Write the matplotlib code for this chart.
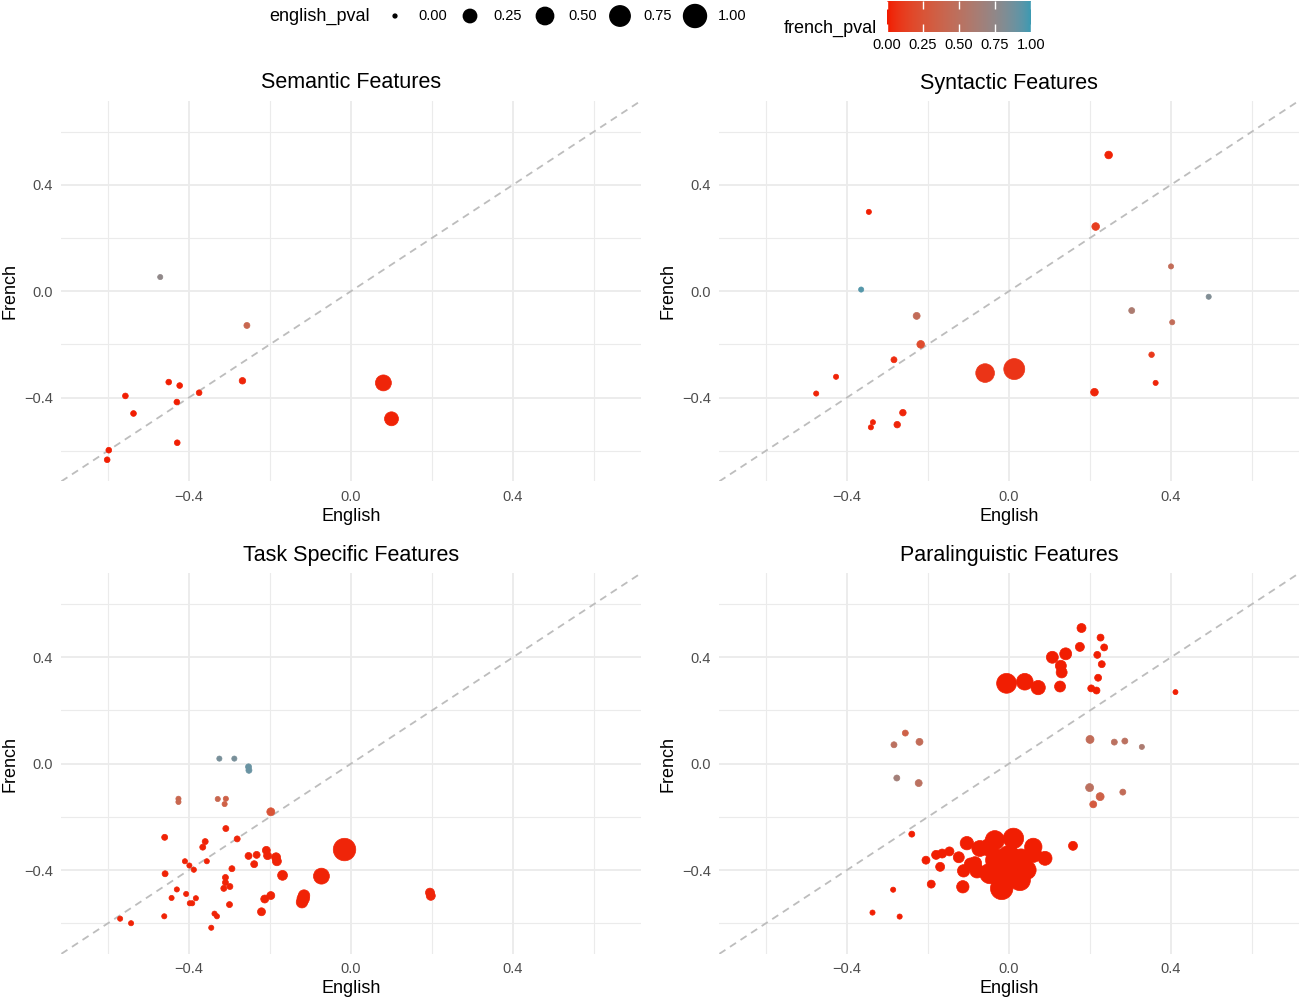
import numpy as np
import matplotlib
matplotlib.use('Agg')
import matplotlib.pyplot as plt
from matplotlib.colors import ListedColormap, to_rgb

plt.rcParams['font.family'] = ['Liberation Sans', 'DejaVu Sans']

# --- data (correlations and p-values per feature) ---
sem_english = [-0.471, -0.257, 0.080, 0.100, -0.268, -0.450, -0.423, -0.375, -0.557, -0.430,
               -0.537, -0.429, -0.598, -0.602]
sem_french = [0.053, -0.129, -0.345, -0.480, -0.337, -0.342, -0.355, -0.382, -0.394, -0.417,
              -0.460, -0.570, -0.598, -0.634]
sem_english_pval = [0.005, 0.013, 0.40, 0.28, 0.02, 0.01, 0.01, 0.01, 0.01, 0.01,
                    0.01, 0.01, 0.01, 0.01]
sem_french_pval = [0.75, 0.40, 0.03, 0.02, 0.03, 0.01, 0.01, 0.02, 0.01, 0.01,
                   0.01, 0.01, 0.01, 0.01]

syn_english = [0.246, -0.346, 0.214, 0.400, -0.365, 0.493, 0.303, -0.228, 0.403, -0.218,
               -0.284, 0.352, -0.059, 0.013, -0.427, -0.476, 0.211, 0.362, -0.262, -0.336,
               -0.341, -0.276]
syn_french = [0.512, 0.298, 0.243, 0.093, 0.006, -0.021, -0.073, -0.093, -0.117, -0.200,
              -0.258, -0.239, -0.308, -0.293, -0.322, -0.385, -0.380, -0.345, -0.457, -0.493,
              -0.512, -0.502]
syn_english_pval = [0.04, 0.005, 0.04, 0.005, 0.005, 0.005, 0.013, 0.027, 0.005, 0.04,
                    0.013, 0.008, 0.60, 0.80, 0.005, 0.005, 0.04, 0.005, 0.02, 0.005,
                    0.005, 0.02]
syn_french_pval = [0.02, 0.01, 0.12, 0.45, 0.95, 0.82, 0.60, 0.45, 0.45, 0.20,
                   0.05, 0.10, 0.08, 0.08, 0.02, 0.02, 0.03, 0.03, 0.03, 0.02,
                   0.02, 0.03]

task_english = [-0.325, -0.288, -0.253, -0.252, -0.426, -0.426, -0.329, -0.309, -0.312, -0.198,
                -0.309, -0.460, -0.281, -0.360, -0.366, -0.253, -0.233, -0.209, -0.206, -0.185,
                -0.183, -0.410, -0.399, -0.388, -0.356, -0.239, -0.294, -0.016, -0.459, -0.169,
                -0.073, -0.310, -0.310, -0.299, -0.314, -0.430, -0.407, -0.443, -0.383, -0.398,
                -0.392, -0.300, -0.198, -0.213, -0.116, -0.121, -0.118, -0.221, -0.337, -0.331,
                -0.461, -0.570, -0.543, -0.345, 0.195, 0.197]
task_french = [0.019, 0.019, -0.012, -0.025, -0.132, -0.144, -0.133, -0.132, -0.152, -0.181,
               -0.244, -0.277, -0.283, -0.293, -0.314, -0.347, -0.343, -0.326, -0.346, -0.352,
               -0.367, -0.367, -0.383, -0.399, -0.367, -0.378, -0.395, -0.323, -0.414, -0.420,
               -0.423, -0.428, -0.447, -0.462, -0.469, -0.473, -0.490, -0.505, -0.506, -0.525,
               -0.525, -0.530, -0.496, -0.509, -0.496, -0.521, -0.508, -0.557, -0.564, -0.574,
               -0.574, -0.583, -0.600, -0.617, -0.485, -0.497]
task_english_pval = [0.005, 0.005, 0.013, 0.013, 0.005, 0.005, 0.005, 0.005, 0.005, 0.047,
                     0.013, 0.013, 0.013, 0.013, 0.013, 0.027, 0.027, 0.047, 0.047, 0.073,
                     0.073, 0.005, 0.005, 0.005, 0.005, 0.027, 0.013, 0.95, 0.013, 0.10,
                     0.40, 0.013, 0.013, 0.013, 0.013, 0.005, 0.005, 0.005, 0.005, 0.005,
                     0.005, 0.013, 0.047, 0.047, 0.16, 0.16, 0.20, 0.047, 0.005, 0.005,
                     0.005, 0.005, 0.005, 0.005, 0.073, 0.073]
task_french_pval = [0.85, 0.85, 0.90, 0.90, 0.40, 0.40, 0.40, 0.35, 0.35, 0.25,
                    0.03, 0.02, 0.03, 0.02, 0.02, 0.02, 0.02, 0.02, 0.02, 0.02,
                    0.02, 0.02, 0.02, 0.02, 0.02, 0.02, 0.02, 0.03, 0.02, 0.02,
                    0.02, 0.02, 0.02, 0.02, 0.02, 0.02, 0.02, 0.02, 0.02, 0.02,
                    0.02, 0.02, 0.02, 0.02, 0.02, 0.02, 0.02, 0.02, 0.02, 0.02,
                    0.02, 0.02, 0.02, 0.02, 0.03, 0.03]

para_english = [0.179, 0.226, 0.235, 0.175, 0.218, 0.229, 0.107, 0.140, 0.128, 0.130,
                0.220, 0.126, 0.203, 0.216, -0.006, 0.039, 0.072, 0.411,
                -0.256, -0.284, -0.221, -0.277, -0.223, 0.200, 0.260, 0.286, 0.328, 0.199,
                0.225, 0.208, 0.281,
                -0.240, -0.104, -0.205, -0.180, -0.165, -0.147, -0.170, -0.192, -0.114, -0.286,
                -0.337, -0.270, 0.158,
                -0.124, -0.112, -0.084, -0.072, -0.079, -0.050, -0.035, 0.011, 0.060, 0.089,
                -0.030, 0.000, 0.030, -0.047, -0.018, 0.027, 0.044, -0.005, -0.095, 0.060]
para_french = [0.510, 0.474, 0.437, 0.439, 0.409, 0.374, 0.400, 0.413, 0.368, 0.343,
               0.323, 0.290, 0.283, 0.275, 0.302, 0.308, 0.286, 0.269,
               0.115, 0.071, 0.082, -0.054, -0.073, 0.091, 0.081, 0.085, 0.063, -0.090,
               -0.124, -0.153, -0.107,
               -0.265, -0.299, -0.363, -0.343, -0.338, -0.330, -0.388, -0.453, -0.463, -0.474,
               -0.560, -0.575, -0.309,
               -0.352, -0.403, -0.375, -0.319, -0.403, -0.315, -0.288, -0.281, -0.313, -0.356,
               -0.363, -0.350, -0.360, -0.413, -0.469, -0.438, -0.400, -0.410, -0.378, -0.340]
para_english_pval = [0.073, 0.027, 0.027, 0.073, 0.027, 0.027, 0.18, 0.18, 0.14, 0.14,
                     0.027, 0.14, 0.027, 0.027, 0.70, 0.45, 0.30, 0.004,
                     0.013, 0.013, 0.027, 0.013, 0.027, 0.047, 0.013, 0.013, 0.005, 0.047,
                     0.047, 0.027, 0.013,
                     0.013, 0.25, 0.047, 0.073, 0.073, 0.073, 0.073, 0.047, 0.20, 0.005,
                     0.005, 0.005, 0.073,
                     0.14, 0.20, 0.25, 0.40, 0.30, 0.50, 0.65, 0.75, 0.50, 0.28,
                     0.95, 0.95, 0.80, 0.75, 0.95, 0.80, 0.60, 0.95, 0.20, 0.45]
para_french_pval = [0.01] * 18 + [0.35, 0.50, 0.45, 0.65, 0.50, 0.45, 0.50, 0.50, 0.60, 0.50,
                                  0.35, 0.30, 0.45] + [0.01] * 33

panel_titles = ['Semantic Features', 'Syntactic Features',
                'Task Specific Features', 'Paralinguistic Features']
size_breaks = [0.00, 0.25, 0.50, 0.75, 1.00]
axis_breaks = [-0.4, 0.0, 0.4]

panels = [
    (sem_english, sem_french, sem_english_pval, sem_french_pval),
    (syn_english, syn_french, syn_english_pval, syn_french_pval),
    (task_english, task_french, task_english_pval, task_french_pval),
    (para_english, para_french, para_english_pval, para_french_pval),
]


# colour ramp interpolated in CIELAB, like ggplot's scale_colour_gradient
def _to_lab(rgb):
    c = np.array(rgb)
    c = np.where(c <= 0.04045, c / 12.92, ((c + 0.055) / 1.055) ** 2.4)
    m = np.array([[0.4124, 0.3576, 0.1805], [0.2126, 0.7152, 0.0722], [0.0193, 0.1192, 0.9505]])
    xyz = m @ c / np.array([0.95047, 1.0, 1.08883])
    f = np.where(xyz > 0.008856, np.cbrt(xyz), 7.787 * xyz + 16 / 116)
    return np.array([116 * f[1] - 16, 500 * (f[0] - f[1]), 200 * (f[1] - f[2])])


def _from_lab(lab):
    fy = (lab[0] + 16) / 116
    fx = fy + lab[1] / 500
    fz = fy - lab[2] / 200
    f = np.array([fx, fy, fz])
    xyz = np.where(f ** 3 > 0.008856, f ** 3, (f - 16 / 116) / 7.787) * np.array([0.95047, 1.0, 1.08883])
    mi = np.array([[3.2406, -1.5372, -0.4986], [-0.9689, 1.8758, 0.0415], [0.0557, -0.2040, 1.0570]])
    c = mi @ xyz
    c = np.where(c <= 0.0031308, 12.92 * c, 1.055 * np.clip(c, 0, None) ** (1 / 2.4) - 0.055)
    return np.clip(c, 0, 1)


lo, hi = _to_lab(to_rgb('#F21A00')), _to_lab(to_rgb('#3B9AB2'))
cmap = ListedColormap([_from_lab(lo + (hi - lo) * t) for t in np.linspace(0, 1, 256)])


def point_area(p):
    d = 3.83 * (1 + 5 * np.sqrt(np.asarray(p, dtype=float)))  # diameter in px
    return (d * 0.72) ** 2


W, H = 1300, 1000
fig = plt.figure(figsize=(13, 10), dpi=100)

lim = (-0.715, 0.715)
origins = [(61.4, 101), (719.4, 101), (61.4, 573.5), (719.4, 573.5)]
for (x0, y0), title, (eng, fr, ep, fp) in zip(origins, panel_titles, panels):
    ax = fig.add_axes([x0 / W, 1 - (y0 + 380.3) / H, 579.2 / W, 380.3 / H])
    ax.set_xlim(lim)
    ax.set_ylim(lim)
    for s in ax.spines.values():
        s.set_visible(False)
    ax.set_xticks(axis_breaks)
    ax.set_yticks(axis_breaks)
    ax.set_xticks([-0.6, -0.2, 0.2, 0.6], minor=True)
    ax.set_yticks([-0.6, -0.2, 0.2, 0.6], minor=True)
    ax.set_xticklabels(['\u22120.4', '0.0', '0.4'])
    ax.set_yticklabels(['\u22120.4', '0.0', '0.4'])
    ax.tick_params(which='both', length=0, labelsize=10.5, labelcolor='#4D4D4D')
    ax.tick_params(axis='x', pad=6)
    ax.tick_params(axis='y', pad=6)
    ax.grid(which='major', color='#EBEBEB', lw=1.3)
    ax.grid(which='minor', color='#EBEBEB', lw=0.8)
    ax.set_axisbelow(True)
    ax.axline((0, 0), slope=1, color='#BDBDBD', lw=1.3, ls=(0, (4, 3)), zorder=1)
    ax.scatter(eng, fr, s=point_area(ep), c=fp, cmap=cmap, vmin=0, vmax=1,
               linewidths=0.5, edgecolors='face', zorder=3)
    ax.set_title(title, fontsize=15.5, pad=9)
    ax.set_xlabel('English', fontsize=13, labelpad=3)
    ax.set_ylabel('French', fontsize=13, labelpad=4)

# --- legends on top ---
leg = fig.add_axes([0, 0, 1, 1], facecolor='none')
leg.set_xlim(0, W)
leg.set_ylim(H, 0)
leg.axis('off')
leg.text(269, 16, 'english_pval', fontsize=13, va='center', ha='left')
key_x = [395 + 75 * i for i in range(len(size_breaks))]
leg.scatter(key_x, [16] * len(size_breaks), s=point_area(size_breaks), color='black')
for kx, b in zip(key_x, size_breaks):
    leg.text(kx + 23, 16, f'{b:.2f}', fontsize=10.5, va='center', ha='left')
leg.text(877, 28, 'french_pval', fontsize=13, va='center', ha='right')

cax = fig.add_axes([887 / W, 1 - 32 / H, 144 / W, 31 / H])
cax.imshow(np.linspace(0, 1, 256)[None, :], aspect='auto', cmap=cmap, extent=[0, 1, 0, 1])
cax.set_xticks(size_breaks)
cax.set_xticklabels([f'{b:.2f}' for b in size_breaks])
cax.set_yticks([])
cax.tick_params(axis='x', direction='in', length=6, width=1, color='white', top=True,
                labelsize=10.5, pad=4)
for s in cax.spines.values():
    s.set_visible(False)

fig.savefig('out.png', dpi=100)
